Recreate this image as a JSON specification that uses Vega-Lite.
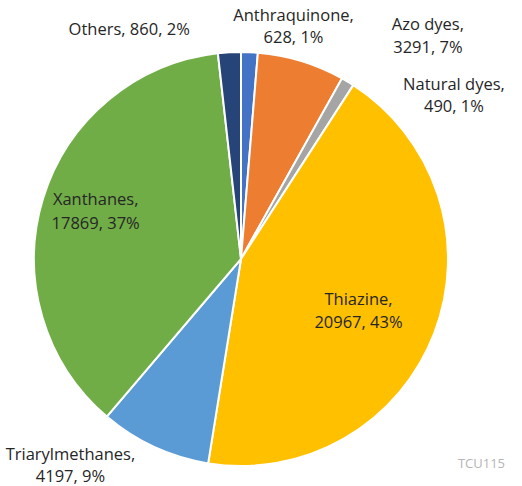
{
  "$schema": "https://vega.github.io/schema/vega-lite/v6.json",
  "width": 482,
  "height": 454,
  "autosize": {"type": "none"},
  "padding": {"left": 0, "top": 32, "right": 40, "bottom": 0},
  "background": "white",
  "title": {"text": "TCU115", "orient": "bottom", "anchor": "end", "frame": "group", "offset": -28, "dx": 23, "fontSize": 13, "fontWeight": "normal", "font": "Open Sans", "color": "#b5b5b5"},
  "data": {"values": [
    {"rank": 1, "dye": "Anthraquinone", "count": 628, "label": "Anthraquinone,\n628, 1%"},
    {"rank": 2, "dye": "Azo dyes", "count": 3291, "label": "Azo dyes,\n3291, 7%"},
    {"rank": 3, "dye": "Natural dyes", "count": 490, "label": "Natural dyes,\n490, 1%"},
    {"rank": 4, "dye": "Thiazine", "count": 20967, "label": "Thiazine,\n20967, 43%"},
    {"rank": 5, "dye": "Triarylmethanes", "count": 4197, "label": "Triarylmethanes,\n4197, 9%"},
    {"rank": 6, "dye": "Xanthanes", "count": 17869, "label": "Xanthanes,\n17869, 37%"},
    {"rank": 7, "dye": "Others", "count": 860, "label": "Others, 860, 2%"}
  ]},
  "encoding": {
    "theta": {"field": "count", "type": "quantitative", "stack": true},
    "order": {"field": "rank", "type": "quantitative"}
  },
  "layer": [
    {
      "mark": {"type": "arc", "outerRadius": 207, "stroke": "white", "strokeWidth": 2},
      "encoding": {
        "color": {"field": "dye", "type": "nominal", "legend": null,
          "scale": {"domain": ["Anthraquinone", "Azo dyes", "Natural dyes", "Thiazine", "Triarylmethanes", "Xanthanes", "Others"],
                    "range": ["#4472C4", "#ED7D31", "#A5A5A5", "#FFC000", "#5B9BD5", "#70AD47", "#264478"]}}
      }
    },
    {
      "mark": {"type": "text", "radius": 233, "dx": 43, "dy": -10, "font": "Open Sans", "fontSize": 16.5, "lineHeight": 22, "lineBreak": "\n", "color": "#262626"},
      "encoding": {"text": {"condition": {"test": "datum.dye === 'Anthraquinone'", "field": "label"}, "value": ""}}
    },
    {
      "mark": {"type": "text", "radius": 233, "dx": 119, "dy": -11, "font": "Open Sans", "fontSize": 16.5, "lineHeight": 23, "lineBreak": "\n", "color": "#262626"},
      "encoding": {"text": {"condition": {"test": "datum.dye === 'Azo dyes'", "field": "label"}, "value": ""}}
    },
    {
      "mark": {"type": "text", "radius": 190, "dx": 115, "dy": -11, "font": "Open Sans", "fontSize": 16.5, "lineHeight": 22, "lineBreak": "\n", "color": "#262626"},
      "encoding": {"text": {"condition": {"test": "datum.dye === 'Natural dyes'", "field": "label"}, "value": ""}}
    },
    {
      "mark": {"type": "text", "radius": 128, "dx": -2, "dy": -5, "font": "Open Sans", "fontSize": 16.5, "lineHeight": 23, "lineBreak": "\n", "color": "#262626"},
      "encoding": {"text": {"condition": {"test": "datum.dye === 'Thiazine'", "field": "label"}, "value": ""}}
    },
    {
      "mark": {"type": "text", "radius": 228, "dx": -75, "dy": -11, "font": "Open Sans", "fontSize": 16.5, "lineHeight": 22, "lineBreak": "\n", "color": "#262626"},
      "encoding": {"text": {"condition": {"test": "datum.dye === 'Triarylmethanes'", "field": "label"}, "value": ""}}
    },
    {
      "mark": {"type": "text", "radius": 152, "dx": 0, "dy": -15, "font": "Open Sans", "fontSize": 16.5, "lineHeight": 24, "lineBreak": "\n", "color": "#262626"},
      "encoding": {"text": {"condition": {"test": "datum.dye === 'Xanthanes'", "field": "label"}, "value": ""}}
    },
    {
      "mark": {"type": "text", "radius": 229, "dx": -99, "dy": 0, "font": "Open Sans", "fontSize": 16.5, "lineHeight": 22, "lineBreak": "\n", "color": "#262626"},
      "encoding": {"text": {"condition": {"test": "datum.dye === 'Others'", "field": "label"}, "value": ""}}
    }
  ]
}
